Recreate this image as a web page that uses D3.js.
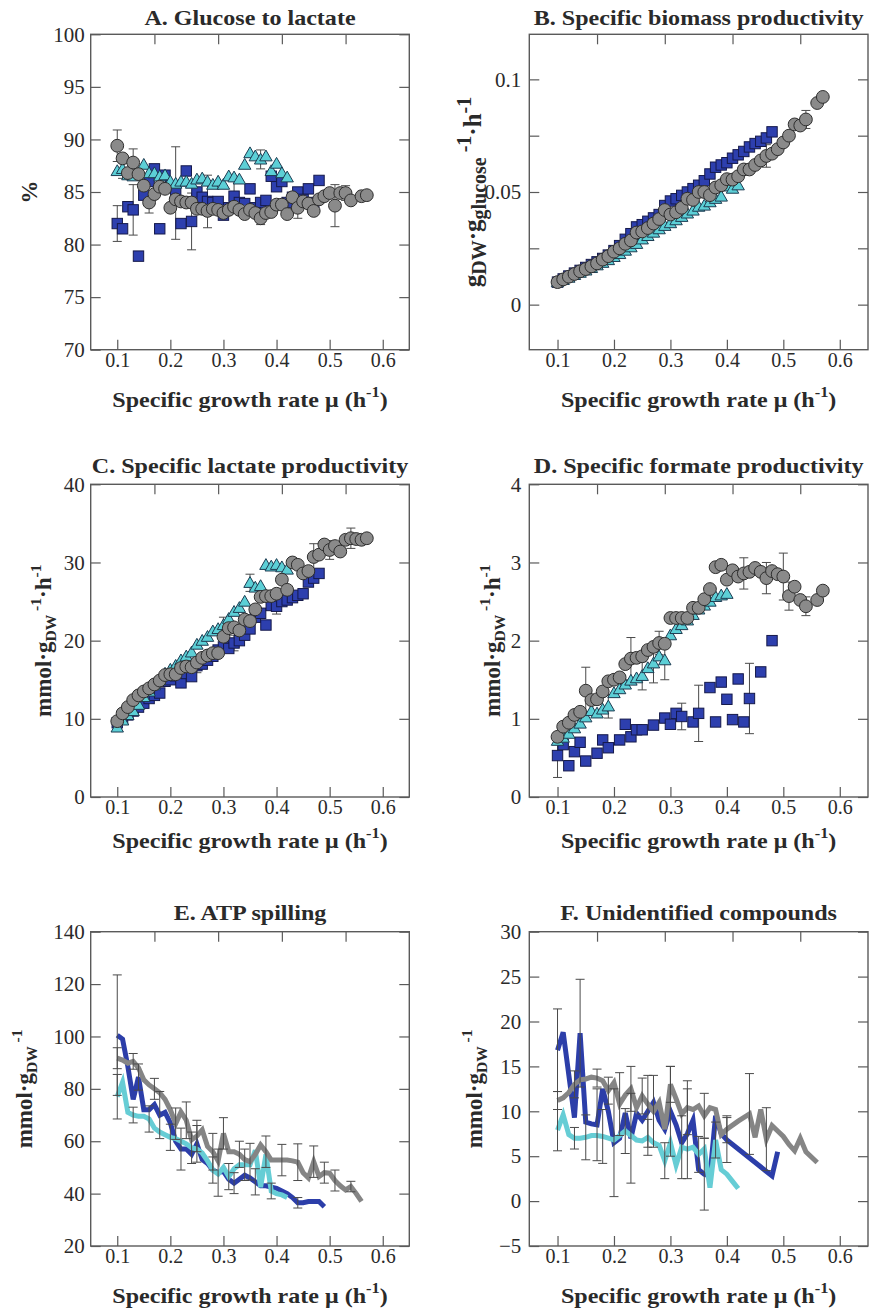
<!DOCTYPE html>
<html>
<head>
<meta charset="utf-8">
<script src="https://cdn.jsdelivr.net/npm/d3@7"></script>
<style>
  body { margin: 0; background: #fff; }
  svg text { font-family: "Liberation Serif", "Times New Roman", serif; }
</style>
</head>
<body>
<div id="fig"></div>
<script>
// Growth rates (h-1) of each series
const muGrey = [0.10,0.11,0.12,0.13,0.14,0.15,0.16,0.17,0.18,0.19,0.20,0.21,0.22,0.23,0.24,0.25,0.26,0.27,0.28,0.29,
  0.30,0.31,0.32,0.33,0.34,0.35,0.36,0.37,0.38,0.39,0.40,0.41,0.42,0.43,0.44,0.45,0.46,0.47,0.48,0.49,
  0.50,0.51,0.52,0.53,0.54,0.55,0.56,0.57];
const muBlue = [0.10,0.11,0.12,0.13,0.14,0.15,0.16,0.17,0.18,0.19,0.20,0.21,0.22,0.23,0.24,0.25,0.26,0.27,0.28,0.29,
  0.30,0.31,0.32,0.33,0.34,0.35,0.36,0.37,0.38,0.39,0.40,0.41,0.42,0.43,0.44,0.45,0.46,0.47,0.48,0.49];
const muCyan = [0.10,0.11,0.12,0.13,0.14,0.15,0.16,0.17,0.18,0.19,0.20,0.21,0.22,0.23,0.24,0.25,0.26,0.27,0.28,0.29,
  0.30,0.31,0.32,0.33,0.34,0.35,0.36,0.37,0.38,0.39,0.40,0.41,0.42];

const xTicks = [0.1, 0.2, 0.3, 0.4, 0.5, 0.6];

// A. Glucose to lactate (%)
const aBlue = [82.0,81.5,83.6,83.3,78.9,84.7,86.0,87.2,81.5,86.6, 85.5,84.9,82.0,87.0,82.2,85.0,84.5,84.1,84.0,84.1,
  82.8,83.5,84.6,84.0,83.9,85.3,83.5,84.0,84.2,86.5, 85.5,86.0,84.0,84.5,85.0,84.3,85.3,84.0,86.1,null];
const aCyan = [87.0,87.2,86.6,86.5,86.8,87.6,86.8,86.8,86.5,86.6, 86.0,85.8,86.0,86.0,85.8,86.2,86.3,86.0,85.7,86.0,
  85.7,86.5,86.4,86.2,87.6,88.7,88.4,88.1,88.4,87.0, 87.7,86.8,86.4];
const aGrey = [89.4,88.2,86.8,87.8,86.7,85.6,84.0,84.8,85.5,85.3, 83.5,84.3,84.1,84.0,84.0,83.4,83.4,83.2,83.4,83.3,
  83.0,83.3,83.6,83.3,82.9,83.3,83.0,82.5,83.0,83.1, 83.8,83.8,82.9,84.5,83.5,84.1,83.9,83.2,84.3,84.6,
  84.9,83.7,84.9,84.9,84.2,null,84.6,84.7];
const aBlueErr = {"0.10":1.7, "0.13":2.4, "0.21":4.4, "0.24":2.7, "0.27":2.5, "0.32":1.6};
const aCyanErr = {"0.11":0.9, "0.37":0.9};
const aGreyErr = {"0.10":1.5, "0.13":1.3, "0.16":1.0, "0.37":0.6, "0.44":1.0, "0.51":2.0, "0.53":0.7};
const aYTicks = [70, 75, 80, 85, 90, 95, 100];

// B. Specific biomass productivity
const bBlue = [.0100,.0114,.0127,.0140,.0152,.0165,.0178,.0190,.0205,.0220, .0240,.0262,.0290,.0315,.0345,.0355,.0370,.0385,.0400,.0440,
  .0460,.0470,.0485,.0500,.0515,.0530,.0550,.0580,.0610,.0620, .0630,.0650,.0665,.0680,.0700,.0715,.0725,.0740,.0767,null];
const bCyan = [.0100,.0110,.0120,.0132,.0142,.0152,.0163,.0175,.0186,.0198, .0212,.0225,.0240,.0255,.0270,.0290,.0305,.0320,.0335,.0350,
  .0362,.0375,.0390,.0405,.0418,.0435,.0440,.0455,.0470,.0480, .0525,.0515,.0530];
const bGrey = [.0100,.0112,.0124,.0136,.0148,.0158,.0170,.0183,.0200,.0215, .0235,.0250,.0270,.0285,.0320,.0325,.0340,.0360,.0380,.0420,
  .0400,.0410,.0430,.0470,.0465,.0500,.0500,.0486,.0520,.0530, .0557,.0555,.0570,.0600,.0600,.0620,.0640,.0660,.0670,.0690,
  .0720,.0750,.0800,.0795,.0822,null,.0895,.0922];
const bBlueErr = {};
const bCyanErr = {};
const bGreyErr = {"0.47":0.005, "0.54":0.004};
const bYTicks = [0, 0.025, 0.05, 0.075, 0.1];
const bYLabels = [0, 0.05, 0.1];

// C. Specific lactate productivity
const cBlue = [9.5,10.0,10.5,11.0,11.5,12.0,12.6,13.0,13.3,14.8, 15.0,15.5,14.6,15.8,15.4,16.8,17.0,17.5,18.0,18.8,
  19.2,19.0,19.7,20.0,20.7,21.5,23.0,23.5,22.0,24.5, 24.4,25.0,25.2,25.5,25.8,26.0,27.5,28.0,28.6,null];
const cCyan = [8.9,9.8,10.5,11.0,11.8,12.8,13.5,14.3,15.0,15.8, 16.3,16.8,17.5,18.0,18.5,19.5,20.0,20.5,21.2,21.5,
  22.0,22.8,23.7,24.2,25.0,27.4,26.8,27.0,29.7,29.5, 29.7,29.4,29.1];
const cGrey = [9.7,10.7,11.5,12.4,13.0,13.5,13.9,14.4,14.9,15.6, 15.7,15.7,16.5,16.7,16.6,17.2,17.8,18.1,18.4,18.4,
  20.5,21.6,21.7,21.3,22.7,22.5,24.0,25.6,25.7,25.7, 26.0,27.8,26.5,30.0,29.7,28.6,28.9,30.7,31.0,32.3,
  31.6,32.1,31.4,32.9,33.1,33.0,32.9,33.1];
const cBlueErr = {"0.25":0.9, "0.32":1.0, "0.40":1.0};
const cCyanErr = {"0.30":1.0, "0.35":1.1};
const cGreyErr = {"0.47":1.7, "0.50":1.2, "0.54":1.3};
const cYTicks = [0, 10, 20, 30, 40];

// D. Specific formate productivity
const dBlue = [0.53,0.67,0.40,0.58,0.70,0.46,null,0.56,0.73,0.63, null,0.73,0.93,0.77,0.86,0.86,null,0.92,null,1.01,
  0.93,1.07,1.03,null,0.96,1.07,null,1.40,0.96,1.47, 1.25,0.99,1.51,0.96,1.26,null,1.60,null,2.00,null];
const dCyan = [0.72,0.76,0.81,0.88,0.94,1.02,1.10,1.07,1.12,1.16, 1.33,1.38,1.44,1.49,1.52,1.55,1.65,1.71,1.80,1.75,
  2.07,2.15,2.20,2.26,2.33,2.40,2.45,2.50,2.56,2.58, 2.60,null,null];
const dGrey = [0.77,0.90,0.95,1.05,1.09,1.36,1.24,1.25,1.35,1.48, 1.50,1.53,1.70,1.77,1.78,1.80,1.88,1.92,1.97,1.96,
  2.29,2.29,2.29,2.29,2.42,2.42,2.53,2.66,2.94,2.97, 2.78,2.90,2.82,2.86,2.88,2.93,2.88,2.80,2.89,2.85,
  2.82,2.57,2.69,2.52,2.44,null,2.52,2.64];
const dBlueErr = {"0.10":0.28, "0.32":0.17, "0.35":0.36, "0.44":0.45};
const dCyanErr = {"0.19":0.15, "0.25":0.18, "0.27":0.25, "0.29":0.25};
const dGreyErr = {"0.15":0.3, "0.23":0.27, "0.28":0.15, "0.43":0.2, "0.47":0.2, "0.50":0.3, "0.51":0.18, "0.54":0.12};
const dYTicks = [0, 1, 2, 3, 4];

// E. ATP spilling
const eBlue = [100.5,99,88.5,76,84.5,72,72,74,70,71, 67,60,57,57,55,59,53,51.5,49,48,
  48.5,45.5,44,45.5,47,46,44.5,43,43,42.5, 42,41,40,38.5,36.5,36.5,37,37,37,35];
const eCyan = [77,82.5,71,70,69.5,69.5,68.5,65,63.5,62.5, 61.5,61,60,59,57.5,57,55.5,52.5,49,47.5,
  50,46.5,49.5,51,51,51,56.5,42.5,55,41, 40,39.5,38.5];
const eGrey = [91.7,91,89.8,90.5,88,83.5,81.5,80,78.5,76, 72,66.7,71.2,68,60.5,62,64.3,58,56,52.5,
  63,56,56,55,53,52.2,55,58.6,56,52.8, 52.8,52.8,52.8,52.5,52,48,46,52.2,46.5,48,
  47.8,45,43,41.4,42.7,40,37,null];
const eBlueErr = {"0.10":23, "0.14":5, "0.18":9, "0.22":8, "0.25":7, "0.29":9, "0.32":4, "0.36":5, "0.44":2};
const eCyanErr = {"0.10":8.5, "0.13":3, "0.16":5, "0.20":5, "0.24":6, "0.28":5, "0.31":5, "0.34":6, "0.39":3};
const eGreyErr = {"0.10":4, "0.13":3, "0.17":4, "0.21":6, "0.23":7, "0.25":6, "0.28":7, "0.30":6, "0.33":5,
  "0.35":7, "0.38":6, "0.41":6, "0.44":7, "0.47":6, "0.49":4, "0.51":4, "0.54":2};
const eYTicks = [20, 40, 60, 80, 100, 120, 140];

// F. Unidentified compounds
const fBlue = [16.8,18.8,null,9.3,18.7,8.8,8.6,8.5,12.5,10.0, 6.5,7.0,9.8,7.0,9.8,9.0,10.0,11.0,9.0,8.0,
  10.0,8.5,6.5,7.5,9.0,3.5,3.0,2.8,9.5,7.5, 6.8,null,null,null,null,null,null,null,2.8,5.5];
const fCyan = [7.9,9.6,7.4,7.0,7.0,7.1,7.3,7.3,7.2,7.0, 6.8,7.3,7.8,7.3,6.8,6.7,7.1,6.5,6.2,4.5,
  6.5,4.0,6.0,5.8,6.0,5.2,5.8,1.5,6.8,3.5, 3.0,2.2,1.4];
const fGrey = [11.2,11.5,12.1,13.0,13.5,13.6,13.8,13.7,13.4,12.3, 13.2,10.8,11.8,12.5,10.4,11.7,10.8,10.0,11.0,8.0,
  13.0,11.4,9.7,10.4,10.2,10.6,9.5,10.4,10.2,7.4, 8.0,null,8.9,null,9.7,7.1,10.2,6.9,8.4,7.8,
  7.2,6.3,5.6,7.0,5.5,null,4.3,null];
const fBlueErr = {"0.10":4.6, "0.14":6.0, "0.17":4.0, "0.20":6.0, "0.23":5.0, "0.26":4.0, "0.30":5.0, "0.33":5.0, "0.36":4.0, "0.40":2.5};
const fCyanErr = {"0.10":2.3, "0.13":1.2, "0.15":2.5, "0.18":3.0, "0.22":2.5, "0.26":2.0, "0.29":2.0, "0.32":3.5, "0.35":2.0, "0.38":2.0};
const fGreyErr = {"0.10":1.0, "0.13":1.5, "0.17":1.0, "0.19":1.5, "0.21":3.5, "0.23":2.5, "0.25":2.0, "0.27":4.0,
  "0.30":2.0, "0.33":3.0, "0.36":2.5, "0.40":1.5, "0.44":4.5, "0.47":3.5};
const fYTicks = [-5, 0, 5, 10, 15, 20, 25, 30];

// Colours
const colors = {
  blue: {fill: "#2d3fae", stroke: "#15194a", line: "#2c3ea9"},
  cyan: {fill: "#5ccfd6", stroke: "#1d3c52", line: "#66cdd5"},
  grey: {fill: "#8a8a8a", stroke: "#2e2e2e", line: "#858585"}
};

// Layout of the 3x2 grid of frames
const cols = [{x0: 90.7, x1: 409.3, ylabX: [37, 51, 32]}, {x0: 529.3, x1: 868, ylabX: [481, 500, 482]}];
const rows = [{y0: 34.3, y1: 349.7, title: 25, xlab: 407}, {y0: 484.3, y1: 797, title: 473, xlab: 848},
              {y0: 931.7, y1: 1246, title: 920, xlab: 1303}];

const mmolH = [{t: "mmol·g"}, {t: "DW", sub: true}, {t: " -1", sup: true}, {t: "·h"}, {t: "-1", sup: true}];
const mmolOnly = [{t: "mmol·g"}, {t: "DW", sub: true}, {t: " -1", sup: true}];

const panels = [
  {title: "A. Glucose to lactate", col: 0, row: 0, kind: "scatter", yDomain: [70, 100], yTicks: aYTicks, yLabels: aYTicks,
   ylabel: [{t: "%"}], ylabSize: 23, subRatio: 0.68,
   series: [{mu: muBlue, v: aBlue, err: aBlueErr, c: "blue"}, {mu: muCyan, v: aCyan, err: aCyanErr, c: "cyan"}, {mu: muGrey, v: aGrey, err: aGreyErr, c: "grey"}]},
  {title: "B. Specific biomass productivity", col: 1, row: 0, kind: "scatter", yDomain: [-0.02, 0.12], yTicks: bYTicks, yLabels: bYLabels,
   ylabel: [{t: "g"}, {t: "DW", sub: true}, {t: "·g"}, {t: "glucose", sub: true}, {t: " -1", sup: true}, {t: "·h"}, {t: "-1", sup: true}],
   ylabSize: 25, subRatio: 0.8,
   series: [{mu: muBlue, v: bBlue, err: bBlueErr, c: "blue"}, {mu: muCyan, v: bCyan, err: bCyanErr, c: "cyan"}, {mu: muGrey, v: bGrey, err: bGreyErr, c: "grey"}]},
  {title: "C. Specific lactate productivity", col: 0, row: 1, kind: "scatter", yDomain: [0, 40], yTicks: cYTicks, yLabels: cYTicks,
   ylabel: mmolH, ylabSize: 23, subRatio: 0.68,
   series: [{mu: muBlue, v: cBlue, err: cBlueErr, c: "blue"}, {mu: muCyan, v: cCyan, err: cCyanErr, c: "cyan"}, {mu: muGrey, v: cGrey, err: cGreyErr, c: "grey"}]},
  {title: "D. Specific formate productivity", col: 1, row: 1, kind: "scatter", yDomain: [0, 4], yTicks: dYTicks, yLabels: dYTicks,
   ylabel: mmolH, ylabSize: 23, subRatio: 0.68,
   series: [{mu: muBlue, v: dBlue, err: dBlueErr, c: "blue"}, {mu: muCyan, v: dCyan, err: dCyanErr, c: "cyan"}, {mu: muGrey, v: dGrey, err: dGreyErr, c: "grey"}]},
  {title: "E. ATP spilling", col: 0, row: 2, kind: "line", yDomain: [20, 140], yTicks: eYTicks, yLabels: eYTicks,
   ylabel: mmolOnly, ylabSize: 23, subRatio: 0.68,
   series: [{mu: muBlue, v: eBlue, err: eBlueErr, c: "blue"}, {mu: muCyan, v: eCyan, err: eCyanErr, c: "cyan"}, {mu: muGrey, v: eGrey, err: eGreyErr, c: "grey"}]},
  {title: "F. Unidentified compounds", col: 1, row: 2, kind: "line", yDomain: [-5, 30], yTicks: fYTicks, yLabels: fYTicks,
   ylabel: mmolOnly, ylabSize: 23, subRatio: 0.68,
   series: [{mu: muBlue, v: fBlue, err: fBlueErr, c: "blue"}, {mu: muCyan, v: fCyan, err: fCyanErr, c: "cyan"}, {mu: muGrey, v: fGrey, err: fGreyErr, c: "grey"}]}
];

const svg = d3.select("#fig").append("svg")
    .attr("width", 869)
    .attr("height", 1315);

const frameColor = "#5a5a5a";
const textColor = "#2a2a2a";

function styleAxis(g, fs) {
  g.select(".domain").remove();
  g.attr("font-family", null).attr("font-size", fs);
  g.selectAll(".tick line").attr("stroke", frameColor).attr("stroke-width", 1.2);
  g.selectAll(".tick text").attr("fill", textColor);
}

function fmtY(d) {
  return String(d).replace("-", "\u2212");
}

function addRichText(sel, parts, size, ratio) {
  let off = 0;
  parts.forEach(p => {
    const target = p.sub ? 5 : p.sup ? -10 : 0;
    sel.append("tspan")
        .attr("dy", target - off)
        .attr("font-size", p.sub || p.sup ? size * ratio : size)
        .text(p.t);
    off = target;
  });
}

panels.forEach(p => {
  const c = cols[p.col], r = rows[p.row];
  const x = d3.scaleLinear().domain([0.05, 0.65]).range([c.x0, c.x1]);
  const y = d3.scaleLinear().domain(p.yDomain).range([r.y1, r.y0]);
  const top = d3.scaleLinear().domain([0, 1]).range([c.x0, c.x1]);
  const g = svg.append("g");

  // Bottom axis with labels
  g.append("g")
      .attr("transform", `translate(0,${r.y1})`)
      .call(d3.axisBottom(x).tickValues(xTicks).tickFormat(d3.format(".1f"))
        .tickSizeInner(-10).tickSizeOuter(0).tickPadding(3))
      .call(a => styleAxis(a, 20));

  // Left axis with labels
  g.append("g")
      .attr("transform", `translate(${c.x0},0)`)
      .call(d3.axisLeft(y).tickValues(p.yTicks)
        .tickFormat(d => p.yLabels.includes(d) ? fmtY(d) : "")
        .tickSizeInner(-10).tickSizeOuter(0).tickPadding(p.col === 0 ? 6 : 8))
      .call(a => styleAxis(a, 21));

  // Right axis, ticks only
  g.append("g")
      .attr("transform", `translate(${c.x1},0)`)
      .call(d3.axisRight(y).tickValues(p.yTicks).tickFormat("")
        .tickSizeInner(-10).tickSizeOuter(0))
      .call(a => styleAxis(a, 20));

  // Top axis, ticks only (evenly spaced)
  g.append("g")
      .attr("transform", `translate(0,${r.y0})`)
      .call(d3.axisTop(top).tickValues([0.2, 0.4, 0.6, 0.8]).tickFormat("")
        .tickSizeInner(-10).tickSizeOuter(0))
      .call(a => styleAxis(a, 20));

  // Frame
  g.append("rect")
      .attr("x", c.x0).attr("y", r.y0)
      .attr("width", c.x1 - c.x0).attr("height", r.y1 - r.y0)
      .attr("fill", "none")
      .attr("stroke", frameColor)
      .attr("stroke-width", 1.4);

  // Points of each series
  const data = p.series.map(s => ({
    c: s.c,
    pts: s.mu.map((m, i) => ({mu: m, v: s.v[i], e: s.err[m.toFixed(2)]})).filter(d => d.v != null)
  }));

  const errG = g.append("g");
  function drawErrors() {
    data.forEach(s => {
      const eb = s.pts.filter(d => d.e);
      const eg = errG.append("g").attr("stroke", "#4a4a4a").attr("stroke-width", 1);
      eg.selectAll("line.v").data(eb).join("line")
          .attr("x1", d => x(d.mu)).attr("x2", d => x(d.mu))
          .attr("y1", d => y(d.v - d.e)).attr("y2", d => y(d.v + d.e));
      eg.selectAll("line.t").data(eb).join("line")
          .attr("x1", d => x(d.mu) - 4.5).attr("x2", d => x(d.mu) + 4.5)
          .attr("y1", d => y(d.v + d.e)).attr("y2", d => y(d.v + d.e));
      eg.selectAll("line.b").data(eb).join("line")
          .attr("x1", d => x(d.mu) - 4.5).attr("x2", d => x(d.mu) + 4.5)
          .attr("y1", d => y(d.v - d.e)).attr("y2", d => y(d.v - d.e));
    });
  }

  if (p.kind === "scatter") {
    drawErrors();
    data.forEach(s => {
      const col = colors[s.c];
      const mg = g.append("g").attr("fill", col.fill).attr("stroke", col.stroke).attr("stroke-width", 1);
      if (s.c === "blue") {
        mg.selectAll("rect").data(s.pts).join("rect")
            .attr("x", d => x(d.mu) - 5.2).attr("y", d => y(d.v) - 5.2)
            .attr("width", 10.4).attr("height", 10.4);
      } else if (s.c === "cyan") {
        mg.selectAll("path").data(s.pts).join("path")
            .attr("transform", d => `translate(${x(d.mu)},${y(d.v)})`)
            .attr("d", "M0,-6.2L6.2,4.6L-6.2,4.6Z");
      } else {
        mg.selectAll("circle").data(s.pts).join("circle")
            .attr("cx", d => x(d.mu)).attr("cy", d => y(d.v))
            .attr("r", 6.4);
      }
    });
  } else {
    const line = d3.line().x(d => x(d.mu)).y(d => y(d.v));
    data.forEach(s => {
      g.append("path")
          .datum(s.pts)
          .attr("fill", "none")
          .attr("stroke", colors[s.c].line)
          .attr("stroke-width", 5)
          .attr("stroke-linejoin", "miter")
          .attr("d", line);
    });
    errG.raise();
    drawErrors();
  }

  // Title (slightly widened, like the reference lettering)
  svg.append("text")
      .attr("transform", `translate(${(c.x0 + c.x1) / 2},${r.title}) scale(1.12,1)`)
      .attr("text-anchor", "middle")
      .attr("font-size", 21.5).attr("font-weight", "bold")
      .attr("fill", textColor)
      .text(p.title);

  // X label
  const xl = svg.append("text")
      .attr("transform", `translate(${(c.x0 + c.x1) / 2},${r.xlab}) scale(1.12,1)`)
      .attr("text-anchor", "middle")
      .attr("font-weight", "bold")
      .attr("fill", textColor);
  addRichText(xl, [{t: "Specific growth rate \u03bc (h"}, {t: "-1", sup: true}, {t: ")"}], 21.5, 0.68);

  // Y label
  const yl = svg.append("text")
      .attr("transform", `translate(${c.ylabX[p.row]},${(r.y0 + r.y1) / 2}) rotate(-90)`)
      .attr("text-anchor", "middle")
      .attr("font-weight", "bold")
      .attr("fill", textColor);
  addRichText(yl, p.ylabel, p.ylabSize, p.subRatio);
});
</script>
</body>
</html>
